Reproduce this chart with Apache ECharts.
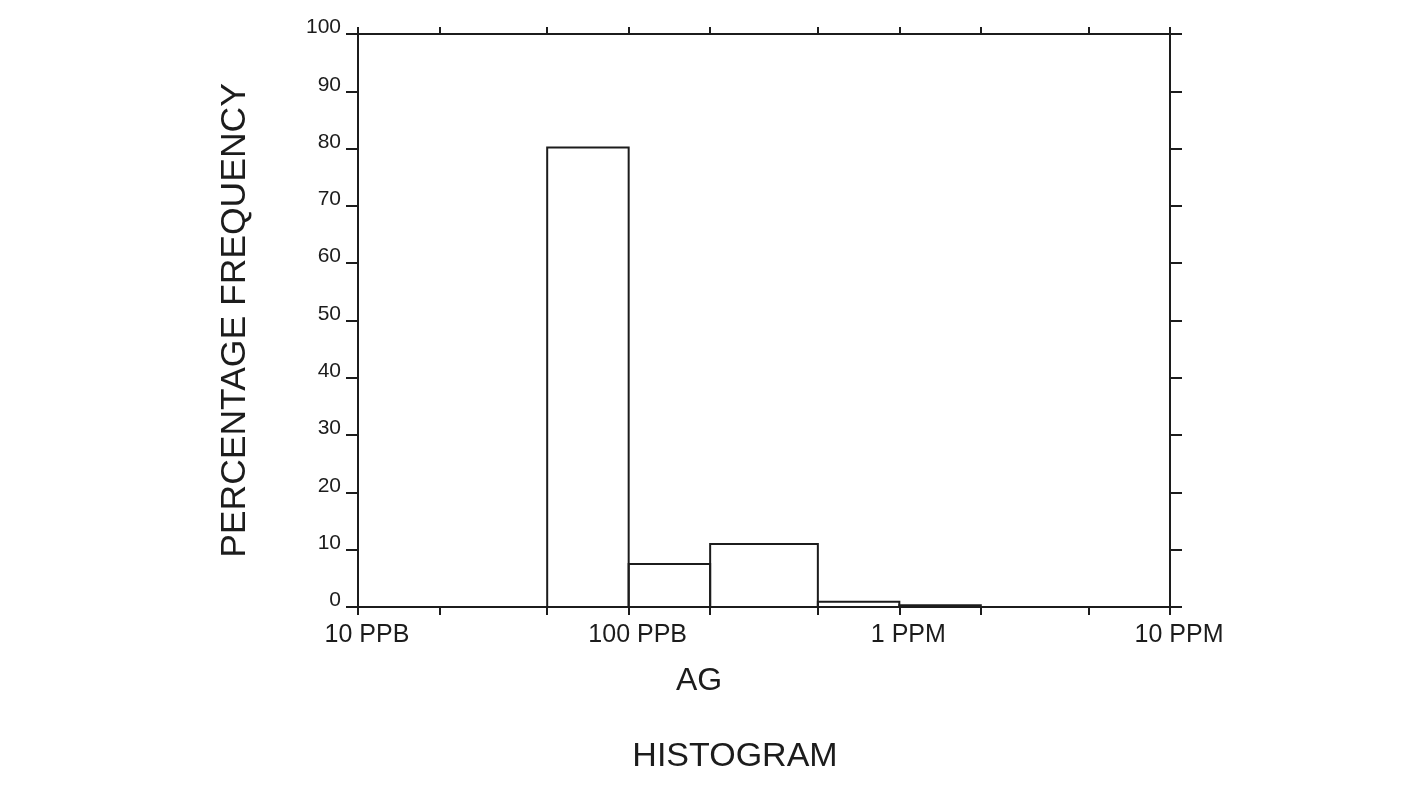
<!DOCTYPE html>
<html>
<head>
<meta charset="utf-8">
<script src="https://cdn.jsdelivr.net/npm/echarts@6/dist/echarts.min.js"></script>
<style>
html,body{margin:0;padding:0;background:#fff;}
#chart{width:1422px;height:808px;}
</style>
</head>
<body>
<div id="chart"></div>
<script>
// Bin edges in PPM (log scale), and percentage frequency per bin
const binLower = [0.05, 0.1, 0.2, 0.5, 1];
const binUpper = [0.1, 0.2, 0.5, 1, 2];
const frequency = [80.2, 7.5, 11.0, 0.9, 0.3];
// Axis ticks (PPM) and labels
const xTickValues = [0.01, 0.02, 0.05, 0.1, 0.2, 0.5, 1, 2, 5, 10];
const xLabelValues = [0.01, 0.1, 1, 10];
const xLabelTexts = ['10 PPB', '100 PPB', '1 PPM', '10 PPM'];

const ink = '#1c1c1c';
const font = '"Liberation Sans", Arial, sans-serif';

const data = binLower.map((lo, i) => [lo, binUpper[i], frequency[i]]);

const chart = echarts.init(document.getElementById('chart'));
const xCommon = {
  type: 'log', logBase: 10, min: 0.01, max: 10,
  splitLine: {show: false},
  axisLine: {show: true, onZero: false, lineStyle: {color: ink, width: 2}}
};
function barRenderer(draw) {
  return function (params, api) {
    if (!draw) return null;
    const p0 = api.coord([api.value(0), api.value(2)]);
    const p1 = api.coord([api.value(1), 0]);
    return {
      type: 'rect',
      shape: {x: p0[0], y: p0[1], width: p1[0] - p0[0], height: p1[1] - p0[1]},
      style: {fill: 'none', stroke: ink, lineWidth: 2}
    };
  };
}
chart.setOption({
  backgroundColor: '#fff',
  animation: false,
  title: {
    text: 'HISTOGRAM', left: 730, top: 735, textAlign: 'center',
    textStyle: {fontFamily: font, fontSize: 34, fontWeight: 'normal', color: ink}
  },
  grid: {left: 358, right: 252, top: 34, bottom: 201},
  xAxis: [
    Object.assign({}, xCommon, {
      position: 'bottom',
      name: 'AG', nameLocation: 'middle', nameGap: 58,
      nameTextStyle: {fontFamily: font, fontSize: 32, color: ink, padding: [0, 130, 0, 0]},
      axisTick: {show: true, length: 8, customValues: xTickValues, lineStyle: {color: ink, width: 2}},
      axisLabel: {
        customValues: xLabelValues, margin: 16, padding: [0, 0, 0, 18],
        fontFamily: font, fontSize: 25, color: ink,
        formatter: v => { const i = xLabelValues.findIndex(t => Math.abs(t - v) < 1e-9 * Math.max(1, t)); return i >= 0 ? xLabelTexts[i] : ''; }
      }
    }),
    Object.assign({}, xCommon, {
      position: 'top',
      axisTick: {show: true, length: 7, customValues: xTickValues, lineStyle: {color: ink, width: 2}},
      axisLabel: {show: false}
    })
  ],
  yAxis: [
    {
      type: 'value', min: 0, max: 100, interval: 10, position: 'left',
      name: 'PERCENTAGE FREQUENCY', nameLocation: 'middle', nameGap: 105, nameRotate: 90,
      nameTextStyle: {fontFamily: font, fontSize: 35.5, color: ink},
      splitLine: {show: false},
      axisLine: {show: true, onZero: false, lineStyle: {color: ink, width: 2}},
      axisTick: {show: true, length: 12, lineStyle: {color: ink, width: 2}},
      axisLabel: {margin: 17, fontFamily: font, fontSize: 21, color: ink, verticalAlign: 'bottom', lineHeight: 13}
    },
    {
      type: 'value', min: 0, max: 100, interval: 10, position: 'right',
      splitLine: {show: false},
      axisLine: {show: true, onZero: false, lineStyle: {color: ink, width: 2}},
      axisTick: {show: true, length: 12, lineStyle: {color: ink, width: 2}},
      axisLabel: {show: false}
    }
  ],
  series: [{
    type: 'custom',
    xAxisIndex: 0, yAxisIndex: 0,
    data: data,
    encode: {x: [0, 1], y: 2},
    renderItem: barRenderer(true)
  }, {
    type: 'custom',
    xAxisIndex: 1, yAxisIndex: 1,
    data: data,
    encode: {x: [0, 1], y: 2},
    silent: true,
    renderItem: barRenderer(false)
  }]
});
</script>
</body>
</html>
